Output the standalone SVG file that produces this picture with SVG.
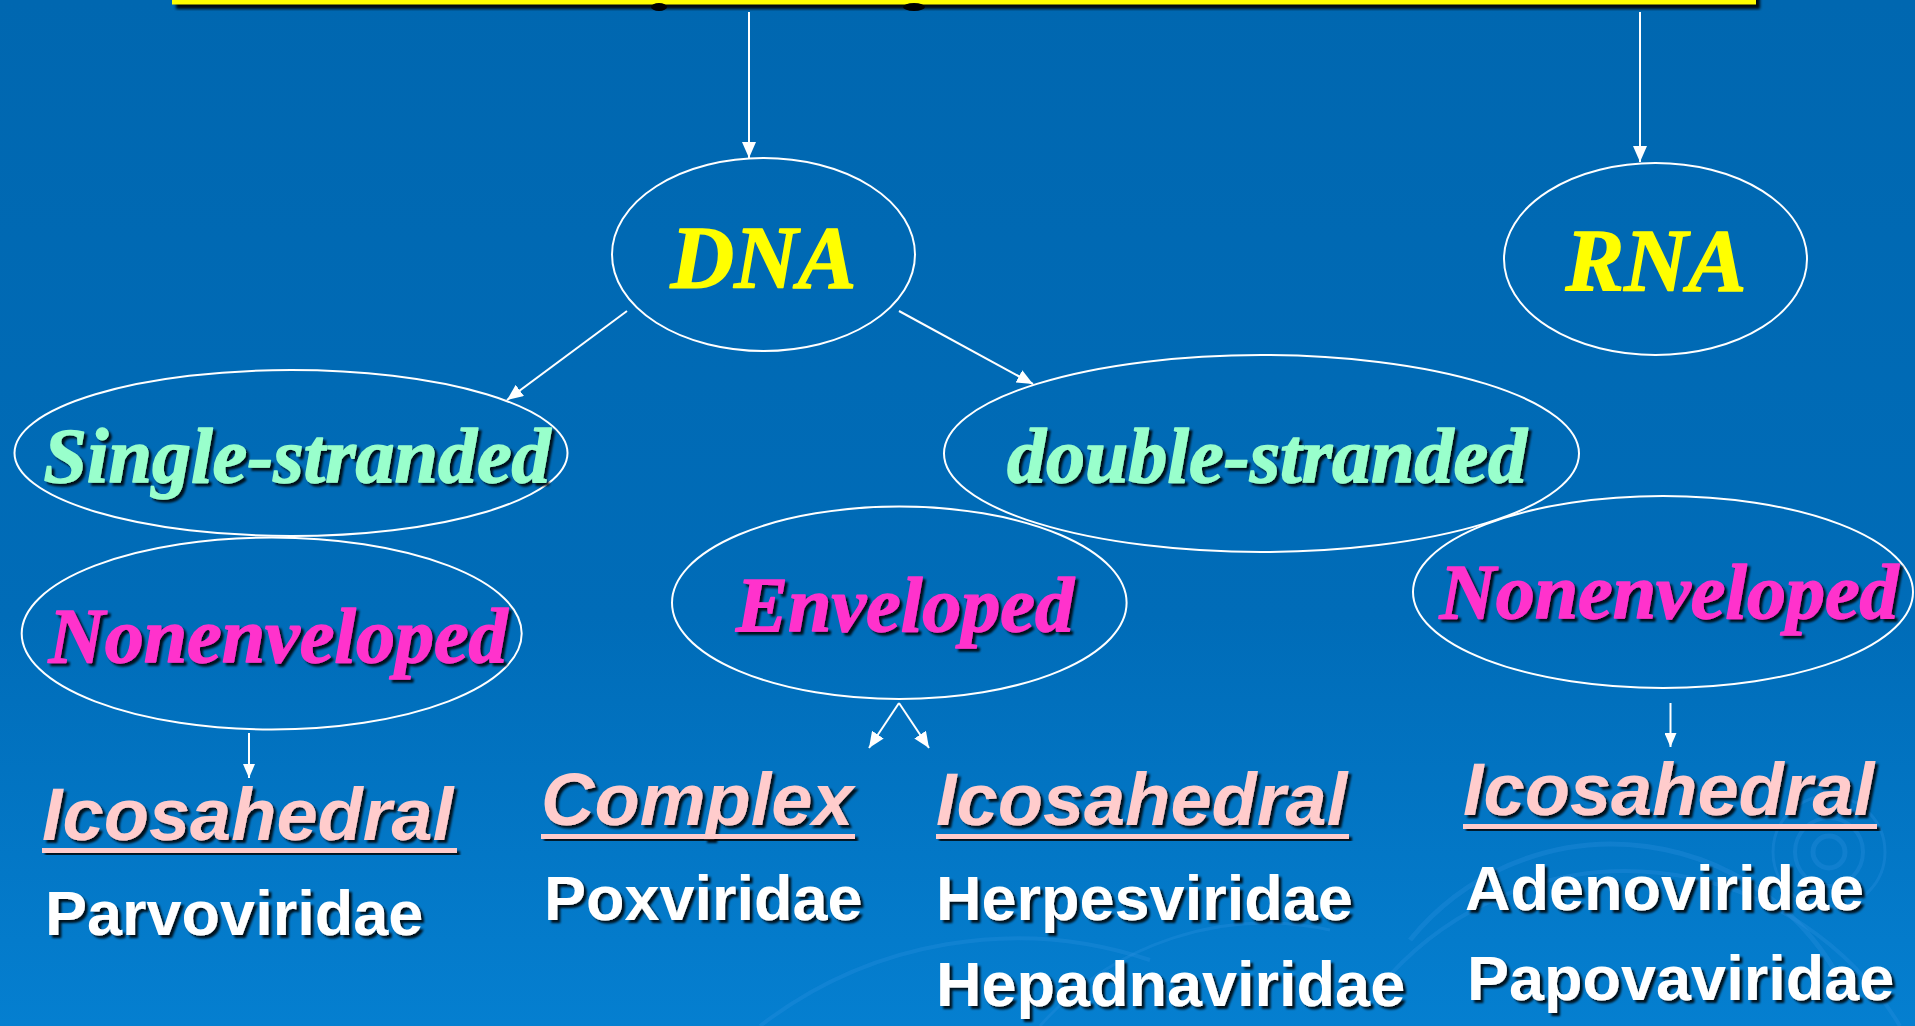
<svg xmlns="http://www.w3.org/2000/svg" width="1915" height="1026" viewBox="0 0 1915 1026">
<defs>
  <linearGradient id="bg" x1="0" y1="0" x2="0" y2="1">
    <stop offset="0" stop-color="#0067B0"/>
    <stop offset="0.6" stop-color="#006CB8"/>
    <stop offset="1" stop-color="#057FD0"/>
  </linearGradient>
  <filter id="sh" x="-10%" y="-20%" width="120%" height="150%">
    <feDropShadow dx="3" dy="3" stdDeviation="1.2" flood-color="#000" flood-opacity="0.85"/>
  </filter>
  <filter id="blur"><feGaussianBlur stdDeviation="1.5"/></filter>
  <marker id="arr" markerWidth="16" markerHeight="14" refX="16" refY="7" orient="auto" markerUnits="userSpaceOnUse">
    <path d="M0,0 L16,7 L0,14 z" fill="#fff"/>
  </marker>
  <marker id="arrs" markerWidth="14" markerHeight="12" refX="14" refY="6" orient="auto" markerUnits="userSpaceOnUse">
    <path d="M0,0 L14,6 L0,12 z" fill="#fff"/>
  </marker>
</defs>
<style>
  .node ellipse { fill: none; stroke: #fff; stroke-width: 2; }
  .ser { font-family: "Liberation Serif", "Times New Roman", serif; font-weight: bold; font-style: italic; stroke-width: 1.4; stroke-linejoin: round; }
  .big { font-size: 88px; fill: #FFFF00; stroke: #FFFF00; }
  .mint { font-size: 78px; fill: #99FFCC; stroke: #99FFCC; filter: url(#sh); }
  .mag { font-size: 78px; fill: #FF33CC; stroke: #FF33CC; filter: url(#sh); }
  .cat { font-family: "Liberation Sans", Arial, sans-serif; font-weight: bold; font-style: italic; font-size: 74px; fill: #FFCCCC; filter: url(#sh); }
  .ul { fill: #FFCCCC; filter: url(#sh); }
  .fam { font-family: "Liberation Sans", Arial, sans-serif; font-weight: bold; font-size: 63px; fill: #fff; filter: url(#sh); }
  .conn line { stroke: #fff; stroke-width: 2; }
  .deco { fill: none; stroke: #2E93E0; stroke-opacity: 0.3; }
</style>

<rect x="0" y="0" width="1915" height="1026" fill="url(#bg)"/>

<!-- faint background decoration -->
<g id="decoration">
  <circle class="deco" cx="1829" cy="852" r="16" stroke-width="5"/>
  <circle class="deco" cx="1829" cy="852" r="34" stroke-width="4"/>
  <circle class="deco" cx="1829" cy="852" r="56" stroke-width="3"/>
  <path class="deco" d="M1410,940 A260,260 0 0 1 1850,1000" stroke-width="5"/>
  <path class="deco" d="M1390,975 A320,320 0 0 1 1900,1026" stroke-width="4"/>
  <path class="deco" d="M760,1026 A420,420 0 0 1 1150,960" stroke-width="4"/>
  <path class="deco" d="M1040,1026 A300,300 0 0 1 1330,930" stroke-width="3"/>
</g>

<!-- top title bar (cut off) -->
<g id="title-bar">
  <rect x="176" y="-10" width="1584" height="19" fill="#000" filter="url(#blur)" opacity="0.9"/>
  <rect x="172" y="-10" width="1584" height="14.5" fill="#FFFF00"/>
  <ellipse cx="659" cy="7" rx="8" ry="4" fill="#000"/>
  <ellipse cx="914" cy="7" rx="11" ry="4" fill="#000"/>
</g>

<g id="connectors" class="conn">
  <line x1="749" y1="12" x2="749" y2="158" marker-end="url(#arr)"/>
  <line x1="1640" y1="12" x2="1640" y2="162" marker-end="url(#arr)"/>
  <line x1="627" y1="311" x2="507" y2="400" marker-end="url(#arr)"/>
  <line x1="899" y1="311" x2="1033" y2="384" marker-end="url(#arr)"/>
  <line x1="899" y1="703" x2="869" y2="748" marker-end="url(#arr)"/>
  <line x1="899" y1="703" x2="929" y2="748" marker-end="url(#arr)"/>
  <line x1="249" y1="733" x2="249" y2="778" marker-end="url(#arrs)"/>
  <line x1="1670.5" y1="703" x2="1670.5" y2="747" marker-end="url(#arrs)"/>
</g>

<g id="node-dna" class="node">
  <ellipse cx="763.5" cy="254.5" rx="151.5" ry="96.5"/>
  <text class="ser big" x="763.5" y="287" text-anchor="middle">DNA</text>
</g>
<g id="node-rna" class="node">
  <ellipse cx="1655.5" cy="259" rx="151.5" ry="96"/>
  <text class="ser big" x="1656" y="290" text-anchor="middle">RNA</text>
</g>
<g id="node-single" class="node">
  <ellipse cx="291" cy="453" rx="276.5" ry="83"/>
  <text class="ser mint" x="297" y="482" text-anchor="middle">Single-stranded</text>
</g>
<g id="node-double" class="node">
  <ellipse cx="1261.5" cy="453.5" rx="317.5" ry="98.5"/>
  <text class="ser mint" x="1267" y="482" text-anchor="middle">double-stranded</text>
</g>
<g id="node-nonenv-left" class="node">
  <ellipse cx="271.7" cy="633.5" rx="250" ry="96"/>
  <text class="ser mag" x="278" y="662" text-anchor="middle">Nonenveloped</text>
</g>
<g id="node-enveloped" class="node">
  <ellipse cx="899.3" cy="602.8" rx="227.3" ry="96.2"/>
  <text class="ser mag" x="905" y="631" text-anchor="middle">Enveloped</text>
</g>
<g id="node-nonenv-right" class="node">
  <ellipse cx="1663" cy="592" rx="250" ry="96"/>
  <text class="ser mag" x="1669" y="618" text-anchor="middle">Nonenveloped</text>
</g>

<g id="node-ico-left">
  <text class="cat" x="42" y="840">Icosahedral</text>
  <rect class="ul" x="42" y="848" width="415" height="5"/>
  <text class="fam" x="45" y="935">Parvoviridae</text>
</g>
<g id="node-complex">
  <text class="cat" x="541" y="825">Complex</text>
  <rect class="ul" x="541" y="834" width="314" height="5"/>
  <text class="fam" x="544" y="920">Poxviridae</text>
</g>
<g id="node-ico-mid">
  <text class="cat" x="936" y="825">Icosahedral</text>
  <rect class="ul" x="936" y="834" width="413" height="5"/>
  <text class="fam" x="936" y="920">Herpesviridae</text>
  <text class="fam" x="936" y="1006">Hepadnaviridae</text>
</g>
<g id="node-ico-right">
  <text class="cat" x="1463" y="815">Icosahedral</text>
  <rect class="ul" x="1463" y="824" width="414" height="5"/>
  <text class="fam" x="1465" y="910">Adenoviridae</text>
  <text class="fam" x="1467" y="1000">Papovaviridae</text>
</g>
</svg>
